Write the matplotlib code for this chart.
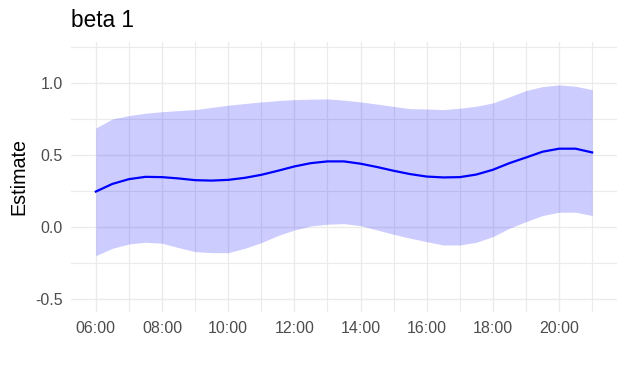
import matplotlib.pyplot as plt

# timme på dagen (halvtimmar från 06:00 till 21:00)
timmar = [6.0, 6.5, 7.0, 7.5, 8.0, 8.5, 9.0, 9.5, 10.0, 10.5, 11.0, 11.5,
          12.0, 12.5, 13.0, 13.5, 14.0, 14.5, 15.0, 15.5, 16.0, 16.5,
          17.0, 17.5, 18.0, 18.5, 19.0, 19.5, 20.0, 20.5, 21.0]

# skattning och konfidensband
estimat = [0.247, 0.300, 0.333, 0.349, 0.347, 0.338, 0.326, 0.323, 0.328,
           0.342, 0.363, 0.391, 0.421, 0.444, 0.456, 0.456, 0.440, 0.417,
           0.391, 0.368, 0.351, 0.345, 0.347, 0.365, 0.398, 0.444, 0.483,
           0.523, 0.544, 0.544, 0.518]
ovre = [0.687, 0.750, 0.773, 0.790, 0.800, 0.808, 0.815, 0.830, 0.845,
        0.857, 0.868, 0.877, 0.884, 0.887, 0.889, 0.880, 0.868, 0.853,
        0.837, 0.821, 0.819, 0.815, 0.824, 0.838, 0.861, 0.903, 0.947,
        0.974, 0.986, 0.976, 0.953]
nedre = [-0.197, -0.146, -0.116, -0.104, -0.111, -0.141, -0.169, -0.176,
         -0.176, -0.146, -0.107, -0.058, -0.019, 0.009, 0.021, 0.025,
         0.011, -0.019, -0.049, -0.076, -0.100, -0.123, -0.123, -0.104,
         -0.065, -0.007, 0.039, 0.081, 0.104, 0.104, 0.081]

# axlarnas markeringar
x_major = [6, 8, 10, 12, 14, 16, 18, 20]
x_etiketter = ["06:00", "08:00", "10:00", "12:00", "14:00", "16:00", "18:00", "20:00"]
x_minor = [7, 9, 11, 13, 15, 17, 19, 21]
y_major = [-0.5, 0.0, 0.5, 1.0]
y_etiketter = ["-0.5", "0.0", "0.5", "1.0"]
y_minor = [-0.25, 0.25, 0.75, 1.25]

plt.rcParams['font.family'] = ['Liberation Sans', 'DejaVu Sans']

fig = plt.figure(figsize=(6.22, 3.72), dpi=100)
ax = fig.add_axes([71 / 622, 1 - 311.7 / 372, 546 / 622, 270 / 372])

# rutnät under allt annat
ax.set_axisbelow(True)
ax.grid(which='major', color='#EBEBEB', linewidth=1.0)
ax.grid(which='minor', color='#EBEBEB', linewidth=0.8)

ax.fill_between(timmar, nedre, ovre, color='blue', alpha=0.2, linewidth=0, zorder=2)
ax.plot(timmar, estimat, color='blue', linewidth=1.6, zorder=3)

ax.set_xlim(5.25, 21.75)
ax.set_ylim(-0.585, 1.285)
ax.set_xticks(x_major)
ax.set_xticklabels(x_etiketter)
ax.set_xticks(x_minor, minor=True)
ax.set_yticks(y_major)
ax.set_yticklabels(y_etiketter)
ax.set_yticks(y_minor, minor=True)

ax.tick_params(which='both', length=0, labelsize=11.5, labelcolor='#4D4D4D')
ax.tick_params(axis='x', pad=7)
ax.tick_params(axis='y', pad=6)
for s in ax.spines.values():
    s.set_visible(False)

ax.set_ylabel("Estimate", fontsize=14.2, color='black', labelpad=5)
fig.text(71 / 622, 1 - 27.3 / 372, "beta 1", fontsize=16.3, color='black',
         ha='left', va='baseline')

fig.savefig("out.png", dpi=100, facecolor='white')
